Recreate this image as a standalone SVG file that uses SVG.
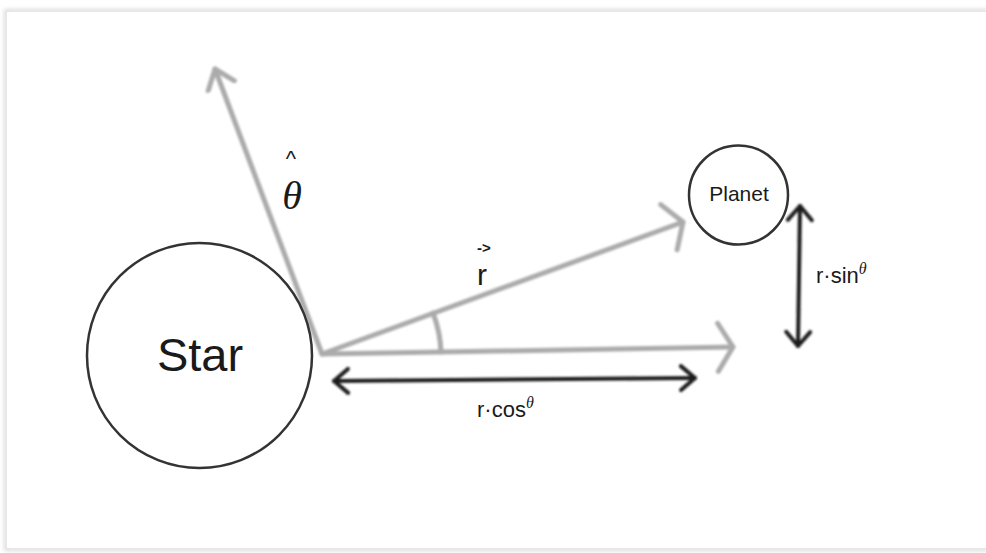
<svg xmlns="http://www.w3.org/2000/svg" width="986" height="553" viewBox="0 0 986 553">
  <defs>
    <filter id="soft" x="-10%" y="-10%" width="120%" height="120%">
      <feGaussianBlur stdDeviation="0.8"/>
    </filter>
    <filter id="shadow" x="-5%" y="-5%" width="110%" height="110%">
      <feGaussianBlur stdDeviation="2"/>
    </filter>
    <marker id="grayHead" markerUnits="userSpaceOnUse" markerWidth="40" markerHeight="60" viewBox="-20 -30 40 60" refX="0" refY="0" orient="auto">
      <path d="M-15,-24 L0,0 L-15,24" fill="none" stroke="#ababab" stroke-width="5" stroke-linecap="round" stroke-linejoin="round"/>
    </marker>
    <marker id="grayHeadSmall" markerUnits="userSpaceOnUse" markerWidth="40" markerHeight="40" viewBox="-20 -20 40 40" refX="0" refY="0" orient="auto">
      <path d="M-18,-14 L0,0 L-18,14" fill="none" stroke="#ababab" stroke-width="5" stroke-linecap="round" stroke-linejoin="round"/>
    </marker>
    <marker id="blackHead" markerUnits="userSpaceOnUse" markerWidth="40" markerHeight="40" viewBox="-20 -20 40 40" refX="0" refY="0" orient="auto-start-reverse">
      <path d="M-14,-12 L0,0 L-14,12" fill="none" stroke="#1c1c1c" stroke-width="4" stroke-linecap="round" stroke-linejoin="round"/>
    </marker>
  </defs>
  <style>
    .body { fill: #ffffff; stroke: #333333; stroke-width: 2.5; }
    .gray { fill: none; stroke: #ababab; stroke-width: 5; stroke-linecap: round; }
    .black { fill: none; stroke: #1c1c1c; stroke-width: 4; stroke-linecap: round; }
    .sans { font-family: "Liberation Sans", Arial, sans-serif; fill: #1a1a1a; }
    .serif { font-family: "Liberation Serif", "Times New Roman", serif; font-style: italic; fill: #1a1a1a; }
  </style>
  <rect x="0" y="0" width="986" height="553" fill="#ffffff"/>
  <rect x="6" y="11" width="990" height="538" fill="none" stroke="#d0d0d0" stroke-width="3" filter="url(#shadow)"/>
  <rect x="7" y="12" width="990" height="536" fill="#ffffff"/>

  <g id="connectors" filter="url(#soft)">
    <line class="gray" x1="322" y1="354" x2="215" y2="69" marker-end="url(#grayHeadSmall)"/>
    <line class="gray" x1="322" y1="354" x2="683" y2="222" marker-end="url(#grayHead)"/>
    <line class="gray" x1="322" y1="354" x2="733" y2="347" marker-end="url(#grayHead)"/>
    <path class="gray" d="M433,313 A120,120 0 0 1 441,352" stroke-width="3.5"/>
    <line class="black" x1="334" y1="381" x2="695" y2="378" marker-start="url(#blackHead)" marker-end="url(#blackHead)"/>
    <line class="black" x1="800" y1="206" x2="798" y2="346" marker-start="url(#blackHead)" marker-end="url(#blackHead)"/>
  </g>

  <g id="star">
    <circle class="body" cx="199.5" cy="355.5" r="112.5"/>
    <text class="sans" x="200" y="371" font-size="47" text-anchor="middle">Star</text>
  </g>

  <g id="planet">
    <circle class="body" cx="738.5" cy="195" r="49.5"/>
    <text class="sans" x="739" y="201" font-size="21" text-anchor="middle" fill="#333">Planet</text>
  </g>

  <g id="labels">
    <text class="sans" x="291" y="166" font-size="22" text-anchor="middle">^</text>
    <text class="serif" x="292" y="209" font-size="40" text-anchor="middle">θ</text>
    <text class="sans" x="484" y="253" font-size="15" font-weight="bold" text-anchor="middle">-&gt;</text>
    <text class="sans" x="482" y="285" font-size="30" text-anchor="middle">r</text>
    <text class="sans" x="816" y="283" font-size="22">r·sin<tspan class="serif" font-size="16" dy="-9">θ</tspan></text>
    <text class="sans" x="477" y="417" font-size="22">r·cos<tspan class="serif" font-size="16" dy="-9">θ</tspan></text>
  </g>
</svg>
